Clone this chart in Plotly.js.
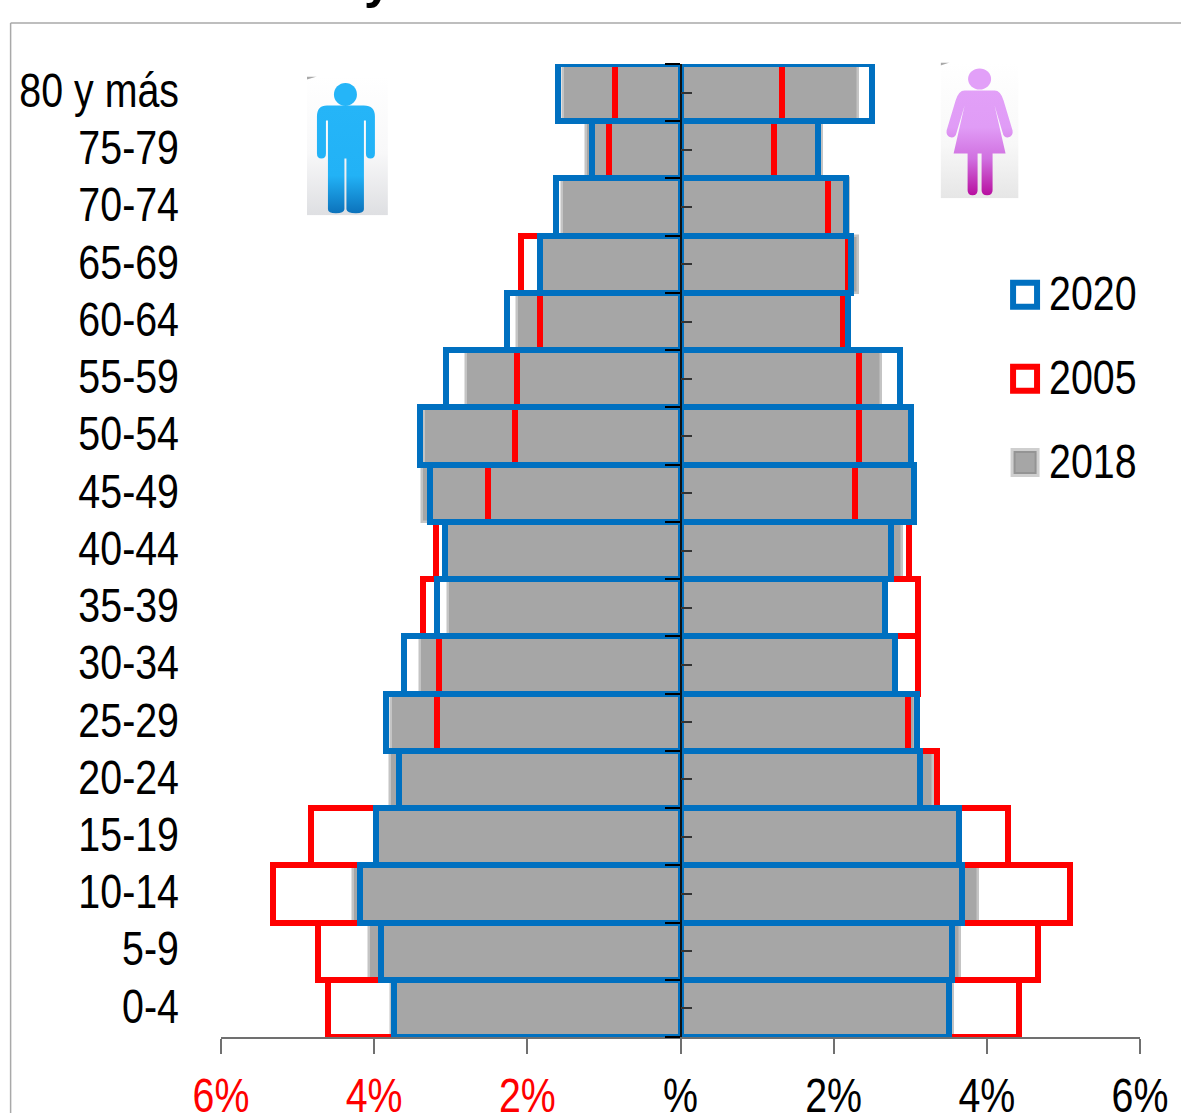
<!DOCTYPE html>
<html>
<head>
<meta charset="utf-8">
<script src="https://cdn.plot.ly/plotly-3.0.1.min.js"></script>
<style>html,body{margin:0;padding:0;background:#fff;overflow:hidden}</style>
</head>
<body>
<div id="chart" style="width:1181px;height:1113px"></div>
<script>
// Age groups, top row first
const ageGroups = ['80 y más','75-79','70-74','65-69','60-64','55-59','50-54','45-49','40-44','35-39','30-34','25-29','20-24','15-19','10-14','5-9','0-4'];
// Percent of population (men negative, to the left)
const men2018   = [-1.53,-1.23,-1.55,-1.82,-2.13,-2.80,-3.35,-3.37,-3.06,-3.03,-3.40,-3.78,-3.79,-3.97,-4.27,-4.07,-3.78];
const women2018 = [2.32,1.85,2.20,2.32,2.19,2.62,3.00,3.08,2.89,2.67,2.80,3.06,3.30,3.63,3.89,3.65,3.56];
const men2005   = [-0.85,-0.93,-1.63,-2.08,-1.83,-2.13,-2.16,-2.51,-3.19,-3.36,-3.15,-3.18,-3.67,-4.82,-5.32,-4.74,-4.60];
const women2005 = [1.32,1.22,1.92,2.19,2.12,2.33,2.33,2.28,2.99,3.10,3.10,2.97,3.35,4.28,5.08,4.67,4.42];
const men2020   = [-1.60,-1.16,-1.63,-1.83,-2.26,-3.06,-3.40,-3.27,-3.07,-3.18,-3.61,-3.84,-3.67,-3.98,-4.18,-3.91,-3.74];
const women2020 = [2.50,1.80,2.16,2.23,2.19,2.87,3.01,3.05,2.75,2.67,2.80,3.09,3.13,3.63,3.67,3.55,3.51];
const xTickVals = [-6,-4,-2,0,2,4,6];
const xTickText = ['<span style="color:#ff0000">6%</span>','<span style="color:#ff0000">4%</span>','<span style="color:#ff0000">2%</span>','%','2%','4%','6%'];
const legendYears = ['2020','2005','2018'];

const FONT = '"Liberation Sans",Arial,sans-serif';
const BLUE = '#0070C0', RED = '#FF0000', GREY = '#A6A6A6', GREYEDGE = '#C4C4C4';
const L = 221, R = 1140.5, T = 63.5, B = 1037.5, W = 1181, H = 1113;
const SQUEEZE = 0.82;
const px = v => (v - L) / (R - L);
const py = v => (B - v) / (B - T);

function barTrace(values, fill, line, width, name) {
  return {type:'bar', orientation:'h', name:name, y:ageGroups, x:values, cliponaxis:false, hoverinfo:'x+y',
    marker:{color:fill, line:{color:line, width:width}}};
}
const traces = [
  barTrace(men2018, GREY, GREYEDGE, 2.5, '2018'),
  barTrace(women2018, GREY, GREYEDGE, 2.5, '2018'),
  barTrace(men2005, 'rgba(0,0,0,0)', RED, 6, '2005'),
  barTrace(women2005, 'rgba(0,0,0,0)', RED, 6, '2005'),
  barTrace(men2020, 'rgba(0,0,0,0)', BLUE, 6, '2020'),
  barTrace(women2020, 'rgba(0,0,0,0)', BLUE, 6, '2020'),
  {type:'scatter', mode:'markers', x:[0], y:[0], yaxis:'y2', marker:{opacity:0}, hoverinfo:'skip', showlegend:false}
];

const n = ageGroups.length;
const edgeTicks = Array.from({length:n+1}, (_, i) => i - 0.5);
const midTicks = Array.from({length:n}, (_, i) => i);

const manSvg = `<svg xmlns="http://www.w3.org/2000/svg" width="81" height="139" viewBox="0 0 81 139"><defs><linearGradient id="b" x1="0" y1="0" x2="0" y2="1"><stop offset="0" stop-color="#ffffff"/><stop offset="0.55" stop-color="#f8f8f9"/><stop offset="1" stop-color="#dedfe2"/></linearGradient><linearGradient id="f" x1="0" y1="0" x2="0" y2="1"><stop offset="0" stop-color="#25b5f8"/><stop offset="0.65" stop-color="#22b2f6"/><stop offset="1" stop-color="#0c72bb"/></linearGradient></defs><rect width="81" height="139" fill="url(#b)"/><path d="M0 0H10L0 3Z" fill="#a8a8a8"/><circle cx="38.5" cy="18" r="11.5" fill="#25b5f8"/><path d="M20 29H57Q68 29 68 40V77Q68 82 63.5 82Q59 82 59 77V44H57V133Q57 137 49 137Q40 137 39.5 133V82H37.5V133Q37 137 29 137Q21 137 21 133V44H19V77Q19 82 14.5 82Q10 82 10 77V40Q10 29 20 29Z" fill="url(#f)"/></svg>`;
const womanSvg = `<svg xmlns="http://www.w3.org/2000/svg" width="78" height="136" viewBox="0 0 78 136"><defs><linearGradient id="b" x1="0" y1="0" x2="0" y2="1"><stop offset="0" stop-color="#ffffff"/><stop offset="0.6" stop-color="#f8f8f8"/><stop offset="1" stop-color="#e6e6e6"/></linearGradient><linearGradient id="f" x1="0" y1="0" x2="0" y2="1"><stop offset="0" stop-color="#e2a0f8"/><stop offset="0.35" stop-color="#e09cf6"/><stop offset="0.65" stop-color="#d070e0"/><stop offset="1" stop-color="#b80fa0"/></linearGradient></defs><rect width="78" height="136" fill="url(#b)"/><path d="M0 0H9L0 3Z" fill="#a8a8a8"/><ellipse cx="39" cy="16.5" rx="11.5" ry="10.5" fill="#e2a0f8"/><path d="M24 28H54Q60 28 63 38L72 68Q73 74 67 75Q63 75 62 70L54 43L65 91H52V128Q52 133 46.5 133Q41 133 41 128V91H37V128Q37 133 32 133Q27 133 27 128V91H13L24 43L16 70Q15 75 11 75Q5 74 6 68L15 38Q18 28 24 28Z" fill="url(#f)"/></svg>`;
const uri = s => 'data:image/svg+xml;base64,' + btoa(s);
const img = (s, x0, y0, w, h) => ({source:uri(s), xref:'paper', yref:'paper', x:px(x0), y:py(y0), sizex:w/(R-L), sizey:h/(B-T), sizing:'stretch', xanchor:'left', yanchor:'top', layer:'above'});

const shapes = [
  {type:'line', xref:'paper', yref:'paper', x0:px(10.5), x1:px(W+5), y0:py(22.5), y1:py(22.5), line:{color:'#A9A9A9', width:1.5}},
  {type:'line', xref:'paper', yref:'paper', x0:px(10.5), x1:px(10.5), y0:py(22.5), y1:py(H+5), line:{color:'#A9A9A9', width:1.5}}
];
const swatchY = [294.5, 378.5, 462.5];
const annotations = [];
const rect = (cy, half, fill, line, w) => ({type:'rect', xref:'paper', yref:'paper', x0:px(1025.5-half), x1:px(1025.5+half), y0:py(cy-half), y1:py(cy+half), fillcolor:fill, line:{color:line, width:w}});
shapes.push(rect(swatchY[0], 12, 'rgba(0,0,0,0)', BLUE, 6));
shapes.push(rect(swatchY[1], 12, 'rgba(0,0,0,0)', RED, 6));
shapes.push(rect(swatchY[2], 13, '#CFCFCF', '#CFCFCF', 3));
shapes.push(rect(swatchY[2], 10.5, GREY, '#949494', 2));
swatchY.forEach((y, i) => {
  annotations.push({xref:'paper', yref:'paper', x:px(1047.5), y:py(y-1), xanchor:'left', yanchor:'middle', showarrow:false, text:legendYears[i], font:{family:FONT, size:48, color:'#000'}});
});
annotations.push({xref:'paper', yref:'paper', x:px(378), y:py(-20), xanchor:'center', yanchor:'middle', showarrow:false, text:'<b>y</b>', font:{family:FONT, size:50, color:'#000'}});

const layout = {
  width:W, height:H, autosize:false, paper_bgcolor:'#fff', plot_bgcolor:'rgba(0,0,0,0)',
  margin:{l:L, r:W-R, t:T, b:H-B, pad:0},
  barmode:'overlay', bargap:0, showlegend:false,
  font:{family:FONT, size:48, color:'#000'},
  xaxis:{range:[-6,6], tickmode:'array', tickvals:xTickVals, ticktext:xTickText, ticks:'outside', ticklen:15, tickwidth:1.5, tickcolor:'#707070',
    showline:true, linecolor:'#707070', linewidth:1.5, showgrid:false, zeroline:false, tickangle:0, tickfont:{family:FONT, size:48, color:'#000'}, ticklabelstandoff:1},
  yaxis:{type:'category', categoryorder:'array', categoryarray:ageGroups.slice().reverse(), range:[-0.5,n-0.5], tickmode:'linear', tick0:0, dtick:1, ticks:'', showline:false, showgrid:false, zeroline:false,
    tickfont:{family:FONT, size:48, color:'#000'}, ticklabelstandoff:41},
  yaxis2:{overlaying:'y', anchor:'free', position:(681-L)/(R-L), side:'left', range:[-0.5,n-0.5], tickmode:'array', tickvals:edgeTicks, ticks:'outside', ticklen:15, tickwidth:1.5, tickcolor:'#000',
    showticklabels:false, showline:true, linecolor:'#111', linewidth:1.5, showgrid:false, zeroline:false,
    minor:{tickmode:'array', tickvals:midTicks, ticks:'inside', ticklen:11, tickwidth:1.5, tickcolor:'#333', showgrid:false}},
  images:[img(manSvg,307,76,81,139), img(womanSvg,941,62,78,136)],
  shapes:shapes, annotations:annotations
};

// The reference uses a condensed face that is not installed: narrow the real text elements horizontally.
function squeeze(el, anchor, dy) {
  const b = el.getBBox();
  const ax = anchor === 'right' ? b.x + b.width : anchor === 'left' ? b.x : b.x + b.width / 2;
  const prev = el.getAttribute('transform') || '';
  el.setAttribute('transform', `${prev} translate(${ax},${dy}) scale(${SQUEEZE},1) translate(${-ax},0)`);
}
Plotly.newPlot('chart', traces, layout, {displayModeBar:false, responsive:false}).then(() => {
  document.querySelectorAll('.ytick text').forEach(t => squeeze(t, 'right', -2.5));
  document.querySelectorAll('.xtick text').forEach(t => squeeze(t, 'center', 0));
  document.querySelectorAll('.annotation-text').forEach(t => {
    if (legendYears.includes(t.textContent)) squeeze(t, 'left', 0);
  });
});
</script>
</body>
</html>
